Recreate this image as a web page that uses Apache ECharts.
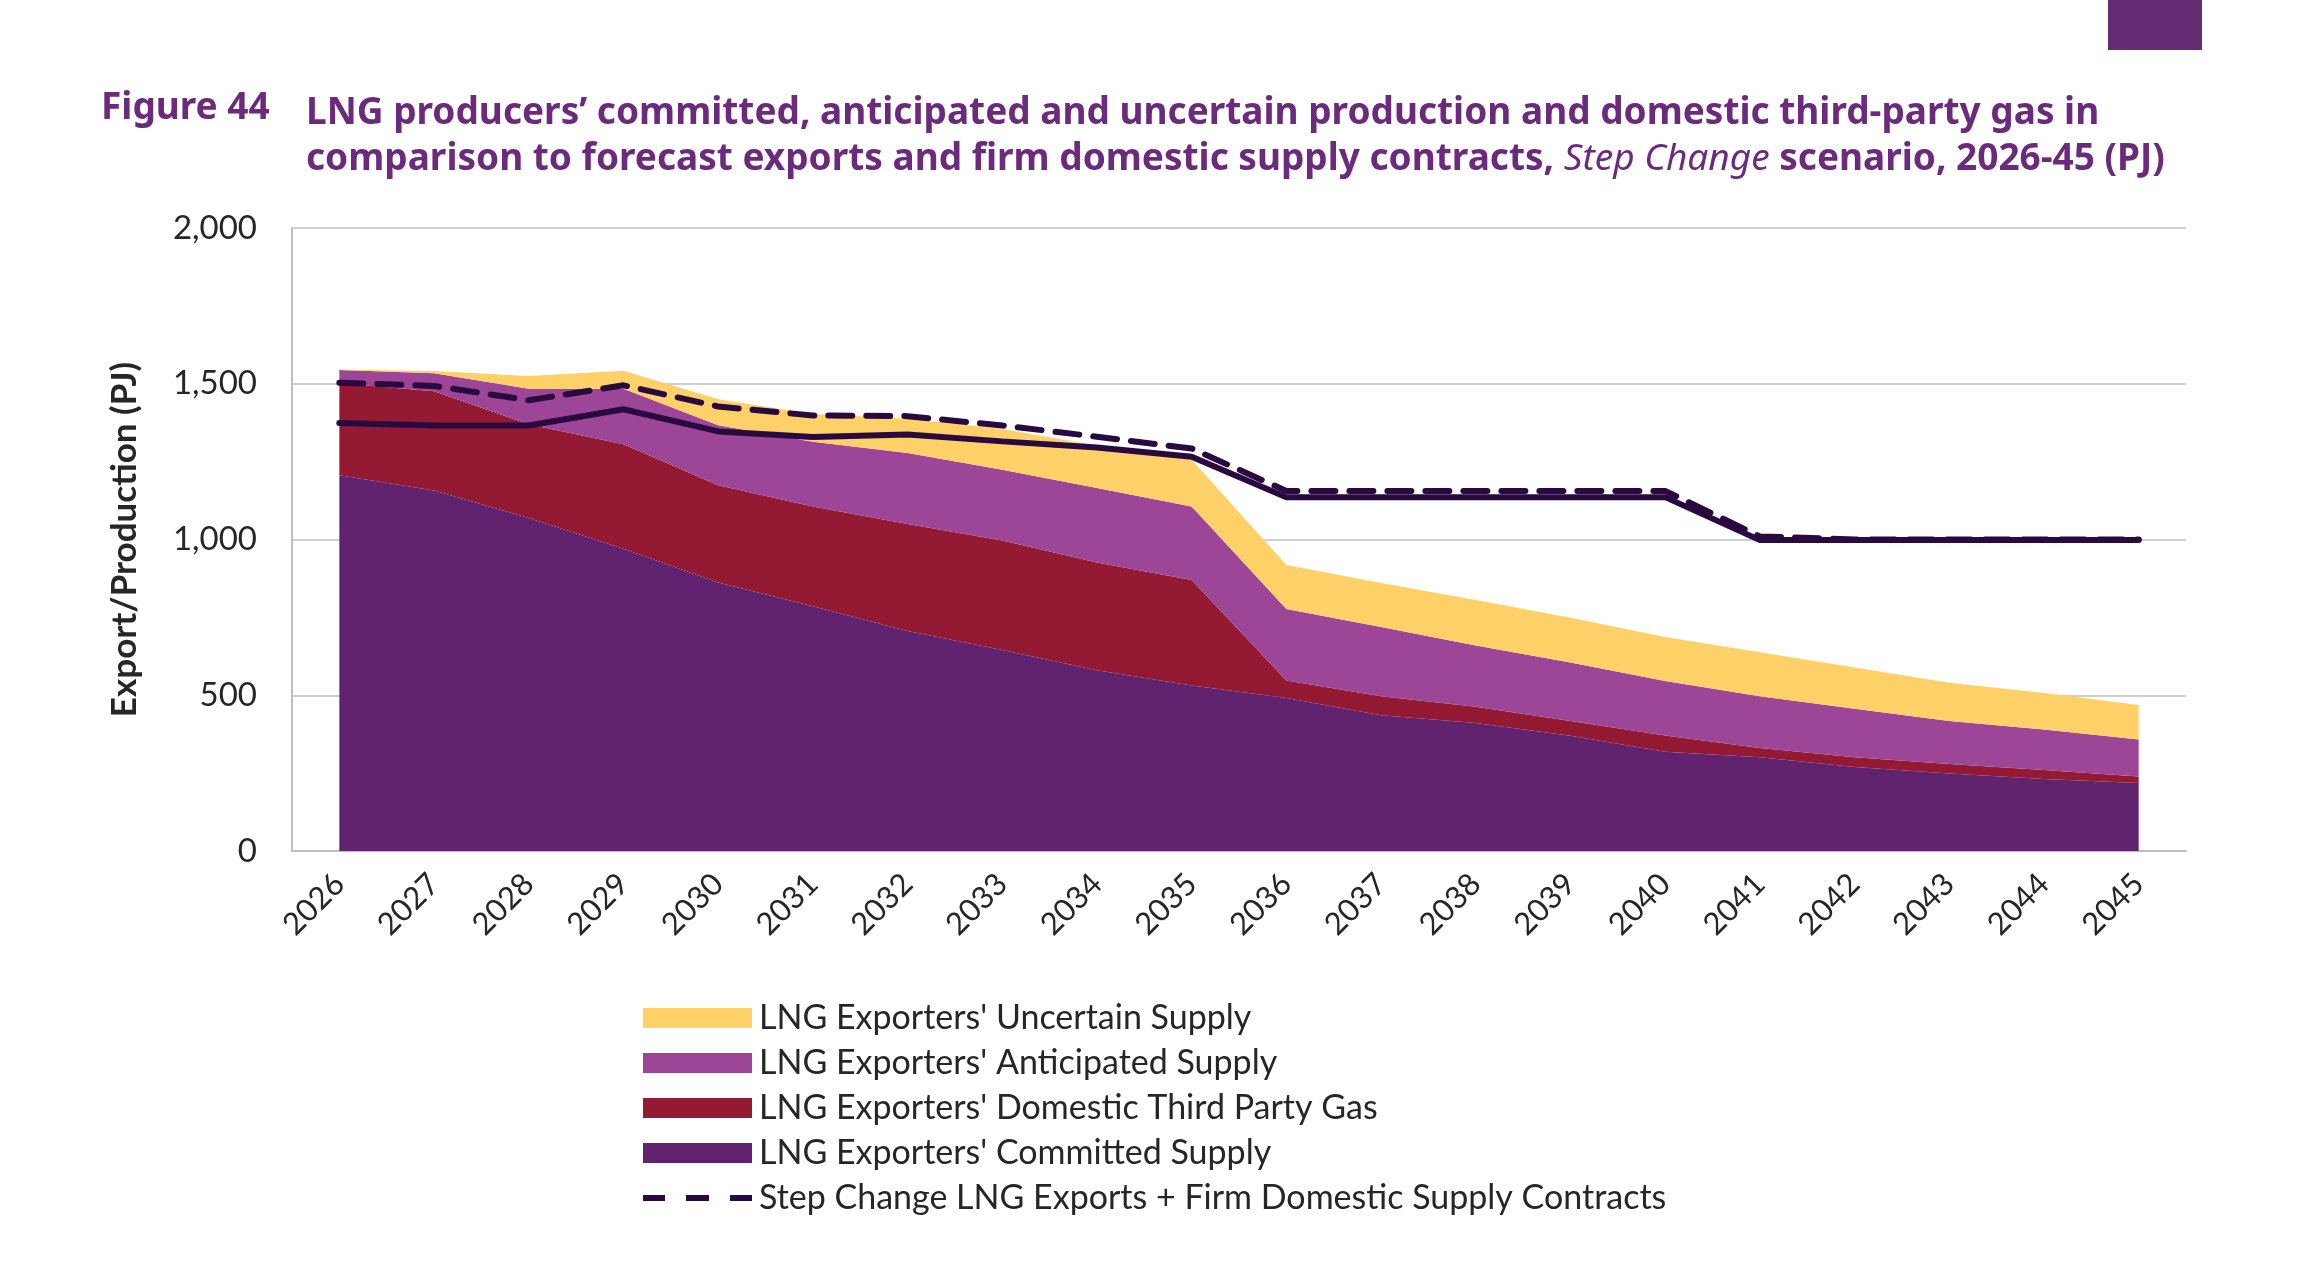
<!DOCTYPE html>
<html>
<head>
<meta charset="utf-8">
<script src="https://cdn.jsdelivr.net/npm/echarts@6/dist/echarts.min.js"></script>
<style>
  html, body { margin: 0; padding: 0; background: #fff; }
  #chart { width: 2304px; height: 1268px; }
</style>
</head>
<body>
<div id="chart"></div>
<script>
// data (PJ)
var years = ["2026", "2027", "2028", "2029", "2030", "2031", "2032", "2033", "2034", "2035",
  "2036", "2037", "2038", "2039", "2040", "2041", "2042", "2043", "2044", "2045"];
var committed = [1206, 1157, 1069, 970, 862, 786, 706, 645, 580, 531, 491, 436, 411, 370, 319, 301, 270, 249, 231, 218];
var thirdParty = [296, 319, 301, 336, 312, 320, 344, 352, 346, 339, 56, 61, 52, 47, 52, 30, 31, 30, 29, 21];
var anticipated = [42, 58, 114, 178, 193, 208, 228, 227, 239, 236, 230, 222, 197, 188, 175, 166, 156, 138, 130, 119];
var uncertain = [2, 7, 41, 58, 83, 89, 110, 131, 137, 150, 141, 141, 146, 144, 141, 141, 132, 123, 117, 111];
var exportsFirm = [1503, 1493, 1447, 1495, 1427, 1398, 1396, 1366, 1330, 1292, 1156, 1156, 1156, 1156, 1156, 1010, 1000, 1000, 1000, 1000];
var exportsOnly = [1374, 1366, 1366, 1418, 1347, 1329, 1337, 1315, 1295, 1266, 1136, 1136, 1136, 1136, 1136, 998, 998, 998, 998, 998];
var yTicks = [0, 500, 1000, 1500, 2000];

var names = {
  uncertain: "LNG Exporters' Uncertain Supply",
  anticipated: "LNG Exporters' Anticipated Supply",
  thirdParty: "LNG Exporters' Domestic Third Party Gas",
  committed: "LNG Exporters' Committed Supply",
  dashed: "Step Change LNG Exports + Firm Domestic Supply Contracts"
};

var font = "Lato, 'Open Sans', sans-serif";
var titleFont = "'Noto Sans', sans-serif";
var lineColor = "#290A40";
// three short dashes for the legend (first two moves fix the icon box)
var dashIcon = "path://M0,0M109,20M0,7h22v6h-22zM43,7h23v6h-23zM87,7h22v6h-22z";

function areaSeries(name, data, color) {
  return {
    name: name,
    type: "line",
    stack: "supply",
    data: data,
    showSymbol: false,
    symbol: "none",
    lineStyle: { width: 0 },
    itemStyle: { color: color },
    areaStyle: { color: color, opacity: 1 },
    z: 2
  };
}

var myChart = echarts.init(document.getElementById("chart"));
var option = {
  backgroundColor: "#fff",
  animation: false,
  title: [
    {
      text: "Figure 44",
      left: 96,
      top: 85,
      textStyle: { color: "#6B2A7C", fontSize: 37, fontWeight: "bold", fontFamily: titleFont }
    },
    {
      text: "LNG producers\u2019 committed, anticipated and uncertain production and domestic third-party gas in\n" +
        "comparison to forecast exports and firm domestic supply contracts, {i|Step Change} scenario, 2026-45 (PJ)",
      left: 301,
      top: 85,
      textStyle: {
        color: "#6B2A7C", fontSize: 37, fontWeight: "bold", lineHeight: 46,
        fontFamily: titleFont,
        rich: {
          i: { color: "#6B2A7C", fontSize: 37, fontWeight: "normal", fontStyle: "italic", fontFamily: titleFont }
        }
      }
    }
  ],
  graphic: [
    { type: "rect", shape: { x: 2108, y: 0, width: 94, height: 50 }, style: { fill: "#652B73" } }
  ],
  legend: {
    orient: "vertical",
    left: 638,
    top: 995,
    itemWidth: 109,
    itemHeight: 20,
    itemGap: 9,
    data: [
      { name: names.uncertain, icon: "rect" },
      { name: names.anticipated, icon: "rect" },
      { name: names.thirdParty, icon: "rect" },
      { name: names.committed, icon: "rect" },
      { name: names.dashed, icon: dashIcon }
    ],
    textStyle: { color: "#262626", fontSize: 34, fontFamily: font, lineHeight: 36, padding: [0, 0, 0, 2] }
  },
  grid: { left: 292, right: 118, top: 228, bottom: 417 },
  xAxis: {
    type: "category",
    data: years,
    boundaryGap: true,
    axisLine: { lineStyle: { color: "#BFBFBF", width: 2 } },
    axisTick: { show: false },
    axisLabel: { rotate: 45, margin: 28, color: "#262626", fontSize: 31, fontFamily: font }
  },
  yAxis: {
    type: "value",
    min: 0,
    max: 2000,
    interval: 500,
    name: "Export/Production (PJ)",
    nameLocation: "middle",
    nameGap: 150,
    nameTextStyle: { color: "#262626", fontSize: 35, fontWeight: "bold", fontFamily: font },
    axisLine: { show: true, lineStyle: { color: "#BFBFBF", width: 2 } },
    axisTick: { show: false },
    splitLine: { lineStyle: { color: "#CFCFCF", width: 2 } },
    axisLabel: {
      margin: 35, color: "#262626", fontSize: 33, fontFamily: font,
      formatter: function (v) { return yTicks.indexOf(v) >= 0 ? v.toLocaleString("en-US") : ""; }
    }
  },
  series: [
    areaSeries(names.committed, committed, "#612370"),
    areaSeries(names.thirdParty, thirdParty, "#941A33"),
    areaSeries(names.anticipated, anticipated, "#9D4597"),
    areaSeries(names.uncertain, uncertain, "#FDD168"),
    {
      name: names.dashed,
      type: "line",
      data: exportsFirm,
      showSymbol: false,
      symbol: "none",
      itemStyle: { color: lineColor },
      lineStyle: { color: lineColor, width: 6, type: [24, 14], cap: "round" },
      z: 4
    },
    {
      name: "Step Change LNG Exports",
      type: "line",
      data: exportsOnly,
      showSymbol: false,
      symbol: "none",
      itemStyle: { color: lineColor },
      lineStyle: { color: lineColor, width: 6, cap: "round" },
      z: 5
    }
  ]
};

myChart.setOption(option);
</script>
</body>
</html>
